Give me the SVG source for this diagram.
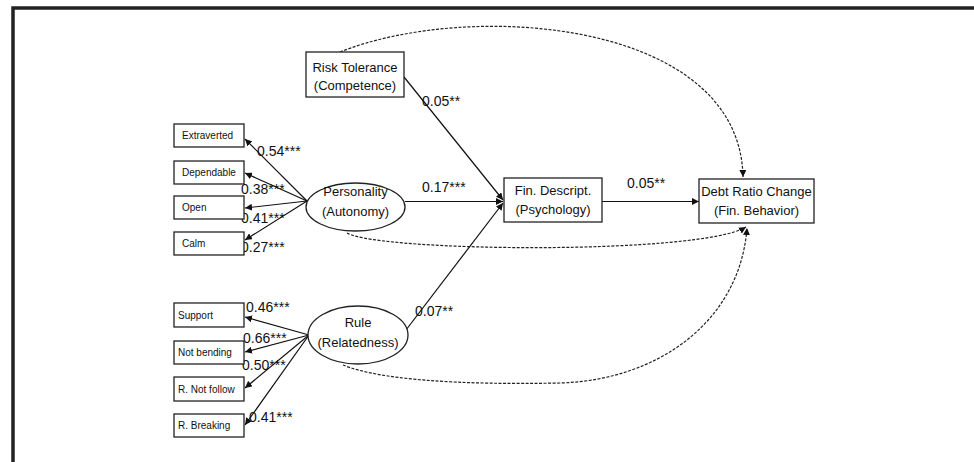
<svg xmlns="http://www.w3.org/2000/svg" width="974" height="462" viewBox="0 0 974 462">
<defs>
<marker id="ah" viewBox="0 0 10 10" refX="10" refY="5" markerWidth="7" markerHeight="7" markerUnits="userSpaceOnUse" orient="auto">
<path d="M0,0 L10,5 L0,10 z" fill="#111"/>
</marker>
<style>
.box{fill:#fff;stroke:#222;stroke-width:1.3}
.t{font-family:"Liberation Sans",Arial,sans-serif;font-size:13px;fill:#111;text-anchor:middle}
.s{font-family:"Liberation Sans",Arial,sans-serif;font-size:10px;fill:#111}
.c{font-family:"Liberation Sans",Arial,sans-serif;font-size:14px;fill:#111}
.ln{fill:none;stroke:#111;stroke-width:1.2;marker-end:url(#ah)}
.dl{fill:none;stroke:#222;stroke-width:1.2;stroke-dasharray:3 1.5;marker-end:url(#ah)}
</style>
</defs>
<rect width="974" height="462" fill="#fff"/>
<path d="M13,462 V8 H974" fill="none" stroke="#222" stroke-width="3.5"/>

<g id="connectors">
<path class="dl" d="M340,52 C470,0 740,20 743,177"/>
<path class="dl" d="M347,233 C380,252 700,255 746,227"/>
<path class="dl" d="M343,365 C380,380 460,385 560,383 C660,380 740,320 747,228"/>
<line class="ln" x1="405" y1="201.5" x2="503" y2="201.5"/>
<line class="ln" x1="404" y1="77" x2="503" y2="200"/>
<line class="ln" x1="406" y1="330" x2="503" y2="203"/>
<line class="ln" x1="602" y1="201.5" x2="699" y2="201.5"/>
<line class="ln" x1="307" y1="201" x2="245" y2="139"/>
<line class="ln" x1="307" y1="201" x2="245" y2="173"/>
<line class="ln" x1="307" y1="201" x2="245" y2="208"/>
<line class="ln" x1="307" y1="201" x2="245" y2="240"/>
<line class="ln" x1="309" y1="335" x2="245" y2="317"/>
<line class="ln" x1="309" y1="335" x2="245" y2="352"/>
<line class="ln" x1="309" y1="335" x2="245" y2="388"/>
<line class="ln" x1="309" y1="335" x2="245" y2="425"/>
<text class="c" x="422" y="106">0.05**</text>
<text class="c" x="422" y="192">0.17***</text>
<text class="c" x="627" y="188">0.05**</text>
<text class="c" x="415" y="316">0.07**</text>
<text class="c" x="257" y="156">0.54***</text>
<text class="c" x="241" y="194">0.38***</text>
<text class="c" x="241" y="223">0.41***</text>
<text class="c" x="241" y="252">0.27***</text>
<text class="c" x="246" y="312">0.46***</text>
<text class="c" x="243" y="343">0.66***</text>
<text class="c" x="242" y="370">0.50***</text>
<text class="c" x="249" y="422">0.41***</text>
</g>

<g id="risk">
<rect class="box" x="306" y="52" width="98" height="45"/>
<text class="t" x="355" y="72">Risk Tolerance</text>
<text class="t" x="355" y="90">(Competence)</text>
</g>
<g id="findescript">
<rect class="box" x="504" y="178" width="98" height="44"/>
<text class="t" x="553" y="195">Fin. Descript.</text>
<text class="t" x="553" y="214">(Psychology)</text>
</g>
<g id="debt">
<rect class="box" x="699" y="179" width="115" height="44"/>
<text class="t" x="756.5" y="196">Debt Ratio Change</text>
<text class="t" x="756.5" y="215">(Fin. Behavior)</text>
</g>
<g id="personality">
<ellipse class="box" cx="355.5" cy="207" rx="49.5" ry="24"/>
<text class="t" x="355.5" y="196">Personality</text>
<text class="t" x="355.5" y="216">(Autonomy)</text>
</g>
<g id="rule">
<ellipse class="box" cx="358" cy="335" rx="50" ry="29"/>
<text class="t" x="358" y="327">Rule</text>
<text class="t" x="358" y="347">(Relatedness)</text>
</g>
<g id="extraverted"><rect class="box" x="174" y="124" width="70" height="23"/><text class="s" x="182" y="139">Extraverted</text></g>
<g id="dependable"><rect class="box" x="174" y="161" width="70" height="23"/><text class="s" x="182" y="176">Dependable</text></g>
<g id="open"><rect class="box" x="174" y="196" width="70" height="23"/><text class="s" x="182" y="211">Open</text></g>
<g id="calm"><rect class="box" x="174" y="232" width="70" height="23"/><text class="s" x="182" y="247">Calm</text></g>
<g id="support"><rect class="box" x="174" y="303" width="70" height="24"/><text class="s" x="178" y="319">Support</text></g>
<g id="notbending"><rect class="box" x="174" y="341" width="70" height="23"/><text class="s" x="178" y="356">Not bending</text></g>
<g id="rnotfollow"><rect class="box" x="174" y="377" width="70" height="24"/><text class="s" x="178" y="393">R. Not follow</text></g>
<g id="rbreaking"><rect class="box" x="174" y="414" width="70" height="23"/><text class="s" x="178" y="429">R. Breaking</text></g>
</svg>
